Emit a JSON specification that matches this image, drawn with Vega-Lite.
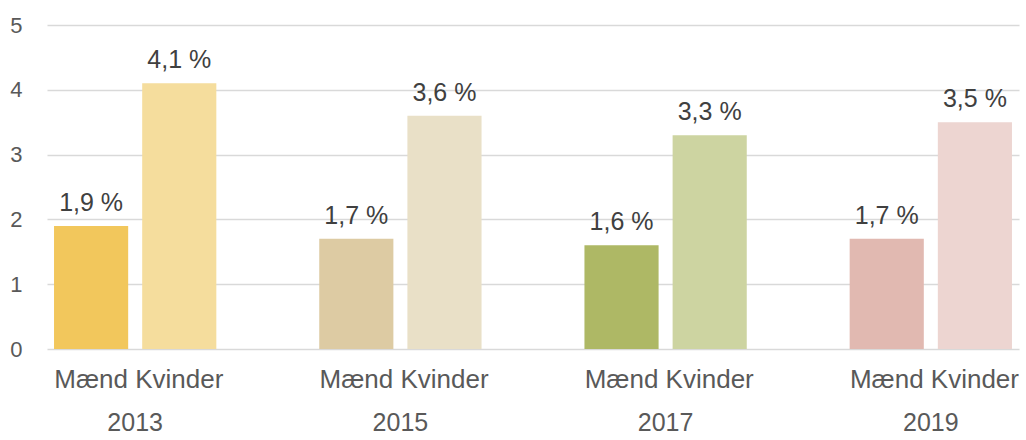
{
  "$schema": "https://vega.github.io/schema/vega-lite/v6.json",
  "autosize": {"type": "none"},
  "padding": {"left": 47, "top": 25, "right": 7, "bottom": 91},
  "width": 972,
  "height": 324,
  "background": "white",
  "config": {
    "font": "Liberation Sans",
    "view": {"stroke": null}
  },
  "data": {
    "values": [
      {"year": "2013", "gender": "Mænd", "value": 1.9},
      {"year": "2013", "gender": "Kvinder", "value": 4.1},
      {"year": "2015", "gender": "Mænd", "value": 1.7},
      {"year": "2015", "gender": "Kvinder", "value": 3.6},
      {"year": "2017", "gender": "Mænd", "value": 1.6},
      {"year": "2017", "gender": "Kvinder", "value": 3.3},
      {"year": "2019", "gender": "Mænd", "value": 1.7},
      {"year": "2019", "gender": "Kvinder", "value": 3.5}
    ]
  },
  "transform": [
    {"calculate": "datum.year + ' ' + datum.gender", "as": "key"},
    {"calculate": "replace(format(datum.value, '.1f'), '.', ',') + ' %'", "as": "label"}
  ],
  "encoding": {
    "x": {
      "field": "year",
      "type": "nominal",
      "sort": null,
      "scale": {"paddingInner": 0.388, "paddingOuter": 0.0265},
      "axis": {
        "title": null,
        "labelAngle": 0,
        "labelFontSize": 25,
        "labelColor": "#595959",
        "labelPadding": 61,
        "ticks": false,
        "domain": false,
        "grid": false
      }
    },
    "xOffset": {
      "field": "gender",
      "type": "nominal",
      "sort": ["Mænd", "Kvinder"],
      "scale": {"paddingInner": 0.159, "paddingOuter": 0}
    }
  },
  "layer": [
    {
      "mark": {"type": "bar"},
      "encoding": {
        "y": {
          "field": "value",
          "type": "quantitative",
          "scale": {"domain": [0, 5], "nice": false},
          "axis": {
            "title": null,
            "values": [0, 1, 2, 3, 4, 5],
            "format": "d",
            "labelFontSize": 22,
            "labelColor": "#595959",
            "labelPadding": 25,
            "ticks": false,
            "domain": false,
            "grid": true,
            "gridColor": "#D9D9D9",
            "gridWidth": 1.5
          }
        },
        "color": {
          "field": "key",
          "type": "nominal",
          "legend": null,
          "scale": {
            "domain": ["2013 Mænd", "2013 Kvinder", "2015 Mænd", "2015 Kvinder", "2017 Mænd", "2017 Kvinder", "2019 Mænd", "2019 Kvinder"],
            "range": ["#F2C75C", "#F5DD9D", "#DDCBA3", "#E9E0C7", "#AEB865", "#CDD4A1", "#E1B9B1", "#EDD5D1"]
          }
        }
      }
    },
    {
      "mark": {"type": "text", "baseline": "alphabetic", "dy": -15, "fontSize": 25, "color": "#404040"},
      "encoding": {
        "y": {"field": "value", "type": "quantitative"},
        "text": {"field": "label"}
      }
    },
    {
      "mark": {"type": "text", "baseline": "top", "dy": 18, "fontSize": 26, "color": "#595959"},
      "encoding": {
        "y": {"datum": 0, "type": "quantitative"},
        "text": {"field": "gender"}
      }
    }
  ]
}
